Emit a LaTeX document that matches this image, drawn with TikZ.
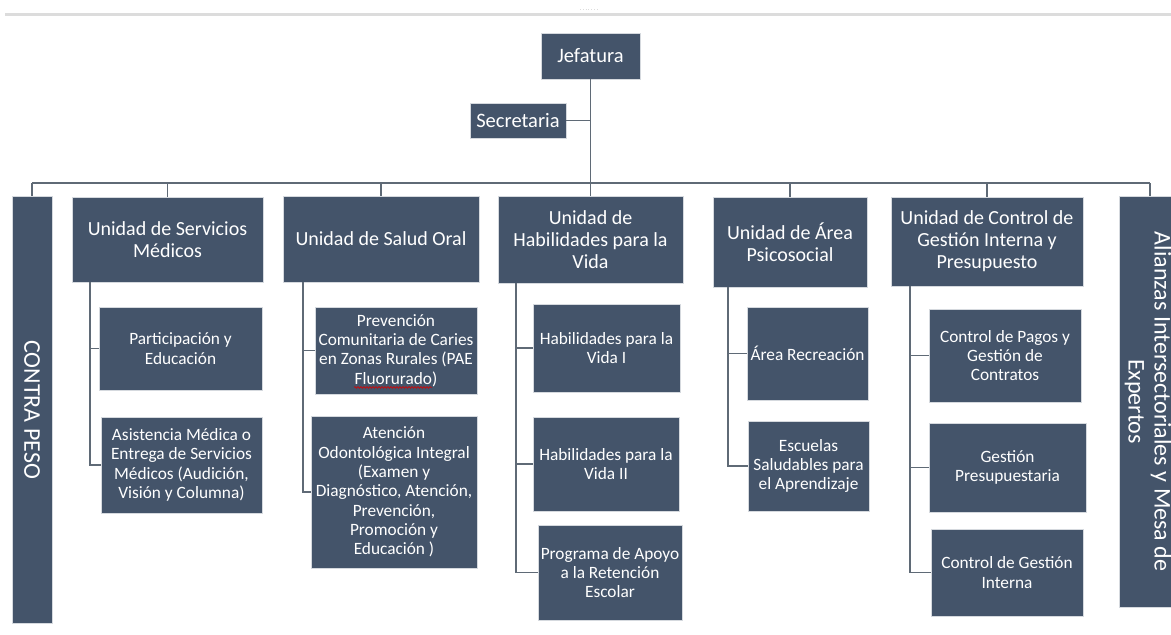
\documentclass[tikz,border=0pt]{standalone}
\usepackage{fontspec}
\setmainfont{Carlito}
\usetikzlibrary{calc,decorations.pathmorphing}
\definecolor{boxfill}{HTML}{44546A}
\definecolor{connc}{HTML}{5F6A76}
\definecolor{edgec}{HTML}{D5D9DE}
\definecolor{topbar}{HTML}{DCDCDC}
\begin{document}
\begin{tikzpicture}[x=1pt,y=-1pt,
  box/.style={draw=edgec, line width=0.8pt, fill=boxfill, text=white, inner sep=0pt, align=center, font=\fontsize{17.3}{19.3}\selectfont},
  unitbox/.style={box, font=\fontsize{20}{22}\selectfont},
  sidebox/.style={box, rotate=-90, font=\fontsize{24}{26}\selectfont},
  sz/.style 2 args={minimum width=#1pt, minimum height=#2pt},
  conn/.style={draw=connc, line width=1.3pt},
  spell/.style={draw=red!85!black, line width=0.6pt, decorate, decoration={snake, amplitude=0.9pt, segment length=3pt}}]
\clip (0,0) rectangle (1171,635);
\fill[white] (0,0) rectangle (1171,635);
\draw[line width=3pt, topbar] (5,14) -- (1171,14);
\draw[line width=0.8pt, topbar, dotted] (580,9) -- (597,9);

% top
\node[box, sz={99}{46}, font=\fontsize{20.5}{22}\selectfont] (jef) at (590.5,56) {Jefatura};
\node[box, sz={96}{35}, font=\fontsize{20.5}{22}\selectfont] (sec) at (518,120.5) {Secretaria};

% side boxes
\node[sidebox, sz={427}{40}] (contra) at (32,409.5) {CONTRA PESO};
\node[sidebox, sz={411}{58}] (ali) at (1148,401.5) {Alianzas Intersectoriales y Mesa de\\Expertos};

% units
\node[unitbox, sz={191}{85}] (usm) at (167.5,239.5) {Unidad de Servicios\\Médicos};
\node[unitbox, sz={196}{86}] (oral) at (381,239) {Unidad de Salud Oral};
\node[unitbox, sz={185}{87}] (hab) at (590.5,239.5) {Unidad de\\Habilidades para la\\Vida};
\node[unitbox, sz={154}{90}] (psi) at (790,242) {Unidad de Área\\Psicosocial};
\node[unitbox, sz={192}{89}] (ctl) at (987,241.5) {Unidad de Control de\\Gestión Interna y\\Presupuesto};

% sub-boxes
\node[box, sz={163}{83}] (part) at (180.5,348.5) {Participación y\\Educación};
\node[box, sz={161}{96}] (asis) at (181.5,465) {Asistencia Médica o\\Entrega de Servicios\\Médicos (Audición,\\Visión y Columna)};

\node[box, sz={162}{87}] (prev) at (396,350.5) {Prevención\\Comunitaria de Caries\\en Zonas Rurales (PAE\\Fluorurado)};
\node[box, sz={166}{152}] (aten) at (394,492) {Atención\\Odontológica Integral\\(Examen y\\Diagnóstico, Atención,\\Prevención,\\Promoción y\\Educación )};

\node[box, sz={147}{88}] (hv1) at (606.5,348) {Habilidades para la\\Vida I};
\node[box, sz={146}{94}] (hv2) at (606,464) {Habilidades para la\\Vida II};
\node[box, sz={144}{95}] (prog) at (610,572.5) {Programa de Apoyo\\a la Retención\\Escolar};

\node[box, sz={121}{93}] (rec) at (807.5,353.5) {Área Recreación};
\node[box, sz={121}{90}] (esc) at (808.5,466) {Escuelas\\Saludables para\\el Aprendizaje};

\node[box, sz={152}{93}] (pag) at (1005,355.5) {Control de Pagos y\\Gestión de\\Contratos};
\node[box, sz={157}{89}] (pres) at (1007.5,467.5) {Gestión\\Presupuestaria};
\node[box, sz={152}{87}] (cgi) at (1007,572.5) {Control de Gestión\\Interna};

% spell-check mark under "Fluorurado"
\draw[spell] ($(prev.south)+(-42,-7)$) -- ($(prev.south)+(36,-7)$);

% connectors top
\coordinate (bus) at (590.5,183);
\coordinate (busL) at (32,183);
\coordinate (busR) at (1150,183);
\draw[conn] (jef.south) -- (hab.north);
\draw[conn] (sec.east) -- (sec.east -| jef.south);
\draw[conn] (busL) -- (busR);
\draw[conn] (busL) -- (contra.west);
\draw[conn] (busR) -- (busR |- ali.west);
\draw[conn] (usm.north) -- (usm.north |- bus);
\draw[conn] (oral.north) -- (oral.north |- bus);
\draw[conn] (psi.north) -- (psi.north |- bus);
\draw[conn] (ctl.north) -- (ctl.north |- bus);

% spines
\coordinate (usmS) at (90,282);
\coordinate (oralS) at (303,282);
\coordinate (habS) at (516,283);
\coordinate (psiS) at (728,287);
\coordinate (ctlS) at (910,286);
\draw[conn] (usmS) |- (part.west);
\draw[conn] (usmS) |- (asis.west);
\draw[conn] (oralS) |- (prev.west);
\draw[conn] (oralS) |- (aten.west);
\draw[conn] (habS) |- (hv1.west);
\draw[conn] (habS) |- (hv2.west);
\draw[conn] (habS) |- (prog.west);
\draw[conn] (psiS) |- (rec.west);
\draw[conn] (psiS) |- (esc.west);
\draw[conn] (ctlS) |- (pag.west);
\draw[conn] (ctlS) |- (pres.west);
\draw[conn] (ctlS) |- (cgi.west);
\end{tikzpicture}
\end{document}
